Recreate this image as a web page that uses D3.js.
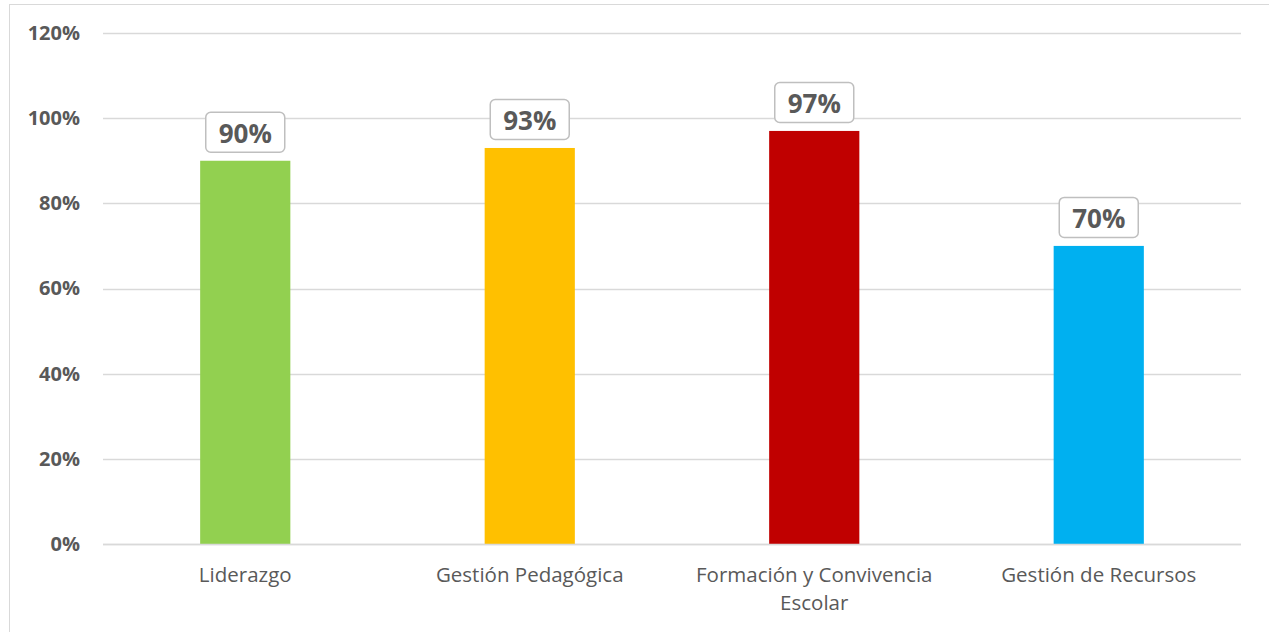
<!DOCTYPE html>
<html><head><meta charset="utf-8">
<script src="https://cdn.jsdelivr.net/npm/d3@7"></script>
<style>body{margin:0;background:#fff;} svg{display:block;}</style>
</head><body>
<svg id="c" width="1269" height="632"></svg>
<script>
const categories = ["Liderazgo", "Gestión Pedagógica", "Formación y Convivencia Escolar", "Gestión de Recursos"];
const categoryLines = [["Liderazgo"], ["Gestión Pedagógica"], ["Formación y Convivencia", "Escolar"], ["Gestión de Recursos"]];
const values = [0.90, 0.93, 0.97, 0.70];
const colors = ["#92d050", "#ffc000", "#c00000", "#00b0f0"];
const yTicks = [0, 0.2, 0.4, 0.6, 0.8, 1.0, 1.2];

const svg = d3.select("#c");
svg.append("rect").attr("x", 9.5).attr("y", 4.5).attr("width", 1262).attr("height", 640)
  .attr("fill", "#fff").attr("stroke", "#d9d9d9").attr("stroke-width", 1);

const pLeft = 103, pRight = 1241, pTop = 33, pBottom = 544;
const x = d3.scaleBand().domain(categories).range([pLeft, pRight]).paddingInner(0.683).paddingOuter(0.3415);
const y = d3.scaleLinear().domain([0, 1.2]).range([pBottom, pTop]);

// gridlines
svg.append("g").selectAll("line").data(yTicks).join("line")
  .attr("x1", pLeft).attr("x2", pRight)
  .attr("y1", d => Math.round(y(d)) + 0.5).attr("y2", d => Math.round(y(d)) + 0.5)
  .attr("stroke", "#d9d9d9").attr("stroke-width", 1.3);

// y axis labels
const yAxis = d3.axisLeft(y).tickValues(yTicks).tickFormat(d3.format(".0%")).tickSize(0).tickPadding(0);
const ya = svg.append("g").attr("transform", `translate(${80},0)`).call(yAxis);
ya.select(".domain").remove();
ya.selectAll("text").attr("font-family", "'Open Sans', sans-serif").attr("font-weight", "bold")
  .attr("font-size", 20).attr("fill", "#595959");

// bars
svg.append("g").selectAll("rect").data(values).join("rect")
  .attr("x", (d, i) => x(categories[i])).attr("width", x.bandwidth())
  .attr("y", d => y(d)).attr("height", d => y(0) - y(d))
  .attr("fill", (d, i) => colors[i]);

// axis baseline
svg.append("line").attr("x1", pLeft).attr("x2", pRight).attr("y1", pBottom + 0.5).attr("y2", pBottom + 0.5)
  .attr("stroke", "#d9d9d9").attr("stroke-width", 1.5);

// value labels
const lab = svg.append("g").selectAll("g").data(values).join("g")
  .attr("transform", (d, i) => `translate(${x(categories[i]) + x.bandwidth() / 2},${y(d) - 8})`);
lab.append("rect").attr("x", -39.5).attr("y", -40.5).attr("width", 79).attr("height", 40).attr("rx", 5)
  .attr("fill", "#fff").attr("stroke", "#bfbfbf").attr("stroke-width", 1.5);
lab.append("text").attr("text-anchor", "middle").attr("y", -10)
  .attr("font-family", "'Open Sans', sans-serif").attr("font-weight", "bold").attr("font-size", 26)
  .attr("fill", "#595959").text(d => d3.format(".0%")(d));

// category labels
const cl = svg.append("g").selectAll("text").data(categoryLines).join("text")
  .attr("x", (d, i) => x(categories[i]) + x.bandwidth() / 2).attr("y", 582)
  .attr("text-anchor", "middle").attr("font-family", "'Open Sans', sans-serif")
  .attr("font-size", 20.5).attr("fill", "#595959");
cl.selectAll("tspan").data(d => d).join("tspan")
  .attr("x", function () { return this.parentNode.getAttribute("x"); })
  .attr("dy", (d, j) => j === 0 ? 0 : 28).text(d => d);
</script>
</body></html>
